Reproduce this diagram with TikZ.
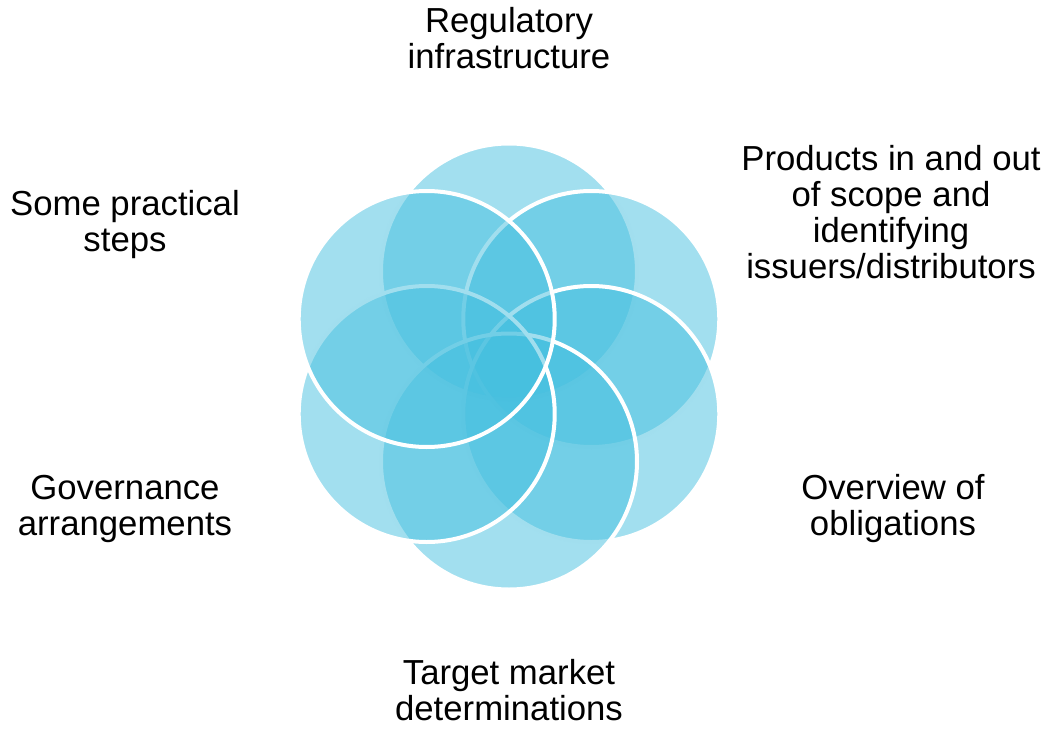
\documentclass[tikz,border=0pt]{standalone}
\usepackage{fontspec}
\setmainfont{Liberation Sans}
\usepackage{xcolor}
\usepackage{tikz}

\definecolor{petalblue}{RGB}{69,191,223}
\tikzset{
  petalcircle/.style={fill=petalblue, fill opacity=0.5, draw=white, line width=0.1cm},
  topic/.style={align=center, font=\fontsize{24.7}{25.6}\selectfont}
}

\begin{document}
\begin{tikzpicture}

  \useasboundingbox (-12.725,-9.075) rectangle (13.425,9.1625);

  \begin{scope}
    % six overlapping circles, clockwise from the top
    \foreach \a in {90,30,-30,-90,-150,150}
      \filldraw[petalcircle] (\a:2.375) circle (3.2);
  \end{scope}

  \node[topic] (regulatory) at (0,8.21) {Regulatory\\infrastructure};
  \node[topic] (products) at (9.55,3.85) {Products in and out\\of scope and\\identifying\\issuers/distributors};
  \node[topic] (overview) at (9.6,-3.56) {Overview of\\obligations};
  \node[topic] (target) at (0,-8.1) {Target market\\determinations};
  \node[topic] (governance) at (-9.6,-3.56) {Governance\\arrangements};
  \node[topic] (practical) at (-9.6,3.56) {Some practical\\steps};

\end{tikzpicture}
\end{document}
